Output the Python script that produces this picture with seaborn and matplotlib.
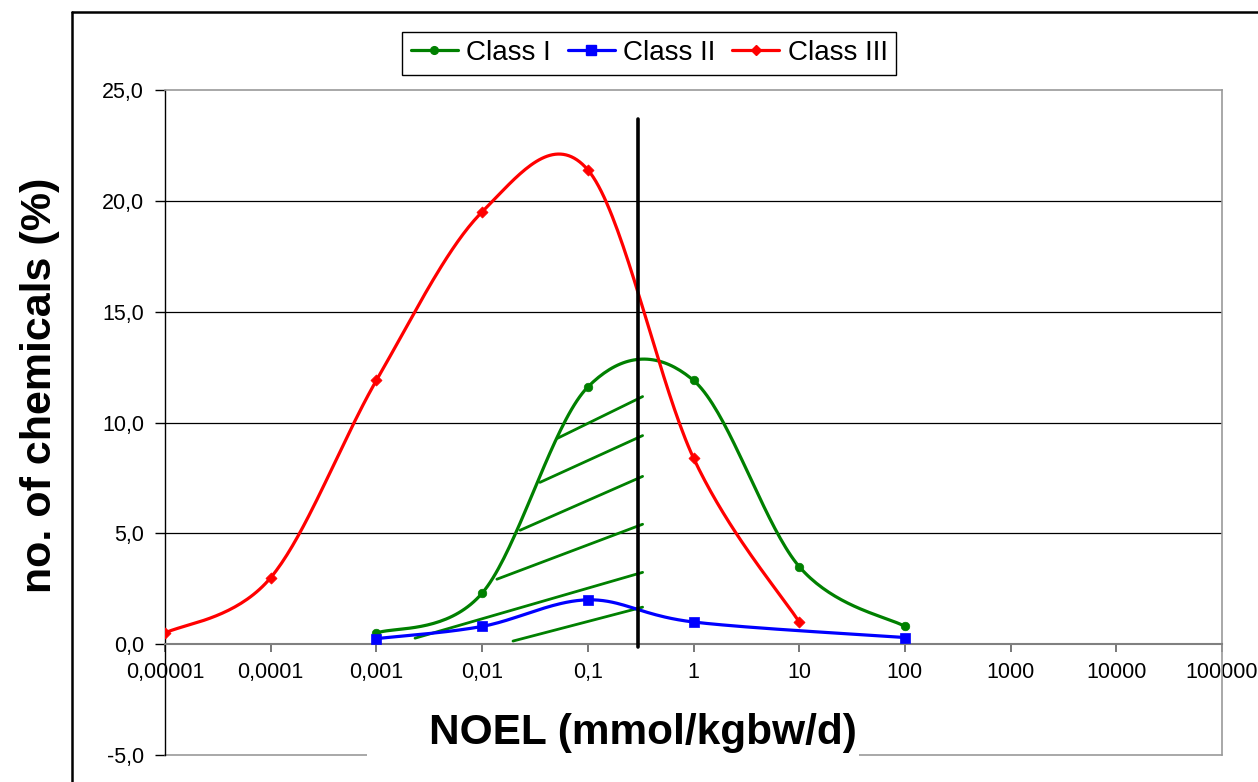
import numpy as np
import pandas as pd
import matplotlib
matplotlib.use("Agg")
import matplotlib.pyplot as plt
import seaborn as sns
from matplotlib.lines import Line2D
from matplotlib.patches import Rectangle

# values
noel_ticks = [1e-5, 1e-4, 1e-3, 1e-2, 1e-1, 1, 10, 100, 1000, 10000, 100000]
noel_tick_labels = ["0,00001", "0,0001", "0,001", "0,01", "0,1", "1", "10",
                    "100", "1000", "10000", "100000"]
pct_ticks = [-5, 0, 5, 10, 15, 20, 25]

class1_x = [0.001, 0.01, 0.1, 1, 10, 100]
class1_y = [0.5, 2.3, 11.6, 11.9, 3.5, 0.8]
class2_x = [0.001, 0.01, 0.1, 1, 100]
class2_y = [0.25, 0.8, 2.0, 1.0, 0.3]
class3_x = [0.00001, 0.0001, 0.001, 0.01, 0.1, 1, 10]
class3_y = [0.5, 3.0, 11.9, 19.5, 21.4, 8.4, 1.0]

# threshold line and hand drawn hatching
threshold_x = 0.3
threshold_top = 23.7
hatch_x0 = [0.0512, 0.0353, 0.0229, 0.0138, 0.00232, 0.0196]
hatch_y0 = [9.28, 7.30, 5.14, 2.93, 0.27, 0.14]
hatch_x1 = [0.33, 0.33, 0.33, 0.33, 0.33, 0.33]
hatch_y1 = [11.17, 9.41, 7.57, 5.41, 3.24, 1.67]


def smooth(xs, ys, n=40):
    # excel style smoothed line (catmull-rom in log x)
    P = np.column_stack([np.log10(xs), np.asarray(ys, float)])
    P = np.vstack([P[0], P, P[-1]])
    t = np.linspace(0, 1, n)[:, None]
    segs = []
    for i in range(1, len(P) - 2):
        p0, p1, p2, p3 = P[i - 1], P[i], P[i + 1], P[i + 2]
        segs.append(0.5 * (2 * p1 + (p2 - p0) * t
                           + (2 * p0 - 5 * p1 + 4 * p2 - p3) * t ** 2
                           + (3 * p1 - p0 - 3 * p2 + p3) * t ** 3))
    s = np.vstack(segs)
    return 10 ** s[:, 0], s[:, 1]


sns.set_style("white")
plt.rcParams['font.family'] = ['Liberation Sans', 'DejaVu Sans']
plt.rcParams['text.color'] = 'black'
plt.rcParams['axes.labelcolor'] = 'black'
plt.rcParams['xtick.labelcolor'] = 'black'
plt.rcParams['ytick.labelcolor'] = 'black'

fig = plt.figure(figsize=(12.58, 7.82), dpi=100)
ax = fig.add_axes([165 / 1258, 1 - 755 / 782, (1222 - 165) / 1258, (755 - 90) / 782])

series = [("Class I", class1_x, class1_y, "#008000", "o", 38),
          ("Class II", class2_x, class2_y, "#0000FF", "s", 55),
          ("Class III", class3_x, class3_y, "#FF0000", "D", 32)]

# grid lines
for g in [5, 10, 15, 20]:
    ax.axhline(g, color="black", lw=0.9, zorder=1)
ax.axhline(-5, color="#999999", lw=1.2, clip_on=False, zorder=1)

# hatching
for x0, y0, x1, y1 in zip(hatch_x0, hatch_y0, hatch_x1, hatch_y1):
    ax.plot([x0, x1], [y0, y1], color="#008000", lw=2.0, zorder=2)

handles = []
for name, xs, ys, col, mk, sz in series:
    sx, sy = smooth(xs, ys)
    df = pd.DataFrame({"x": sx, "y": sy})
    sns.lineplot(data=df, x="x", y="y", sort=False, estimator=None, color=col,
                 lw=2.3, ax=ax, zorder=3)
    sns.scatterplot(x=xs, y=ys, marker=mk, s=sz, color=col, edgecolor=col,
                    linewidth=0.5, ax=ax, zorder=4)
    handles.append(Line2D([], [], color=col, lw=2.3, marker=mk,
                          markersize=np.sqrt(sz) * 0.9, label=name))

ax.plot([threshold_x, threshold_x], [-0.15, threshold_top], color="black",
        lw=2.6, zorder=5)

ax.set_xscale("log")
ax.set_xlim(1e-5, 1e5)
ax.set_ylim(-5, 25)
ax.set_xticks(noel_ticks)
ax.set_xticklabels(noel_tick_labels)
ax.xaxis.set_minor_locator(matplotlib.ticker.NullLocator())
ax.set_yticks(pct_ticks)
ax.set_yticklabels([f"{v:.1f}".replace(".", ",") for v in pct_ticks])
ax.set_xlabel("")
ax.set_ylabel("")

ax.spines["bottom"].set_position(("data", 0))
ax.spines["bottom"].set_color("#808080")
ax.spines["bottom"].set_linewidth(1.5)
ax.spines["left"].set_color("black")
ax.spines["left"].set_linewidth(1.0)
for s in ["top", "right"]:
    ax.spines[s].set_color("#999999")
    ax.spines[s].set_linewidth(1.2)
    ax.spines[s].set_visible(True)
ax.tick_params(axis="x", direction="out", length=6, width=1.2, color="#606060",
               pad=7, labelsize=15.5, bottom=True)
ax.tick_params(axis="y", direction="out", length=7, width=1.0, color="black",
               pad=8, labelsize=15.5, left=True)

fig.legend(handles=handles, loc="center", bbox_to_anchor=(0.516, 0.932), ncol=3,
           fontsize=20, frameon=True, fancybox=False, edgecolor="black",
           framealpha=1, borderpad=0.3, handlelength=1.7, handletextpad=0.3,
           columnspacing=0.6, borderaxespad=0)

# white patch behind the x axis title
fig.add_artist(Rectangle((367 / 1258, 1 - 775 / 782), (859 - 367) / 1258, 70 / 782,
                         transform=fig.transFigure, facecolor="white",
                         edgecolor="none", zorder=10))
fig.text(643 / 1258, 1 - 733 / 782, "NOEL (mmol/kgbw/d)", ha="center", va="center",
         fontsize=30.5, fontweight="bold", zorder=11)
fig.text(40 / 1258, 1 - 385 / 782, "no. of chemicals (%)", ha="center", va="center",
         rotation=90, fontsize=31, fontweight="bold")

# outer chart frame
fx, fy = 72 / 1258, 1 - 12 / 782
fig.add_artist(Line2D([fx, fx], [0, fy], color="black", lw=1.8,
                      transform=fig.transFigure))
fig.add_artist(Line2D([fx, 1], [fy, fy], color="black", lw=1.8,
                      transform=fig.transFigure))

fig.savefig("out.png", dpi=100)
